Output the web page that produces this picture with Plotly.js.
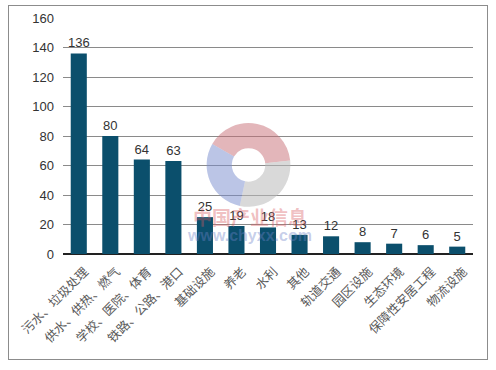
<!DOCTYPE html>
<html><head><meta charset="utf-8">
<script src="https://cdn.plot.ly/plotly-3.0.1.min.js"></script>
<style>
html,body{margin:0;padding:0;background:#fff;}
#frame{position:absolute;left:8px;top:5px;width:480px;height:355px;border:1px solid #8c8c8c;box-sizing:border-box;}
#chart{width:478px;height:353px;}
</style></head>
<body><div id="frame"><div id="chart"></div></div>
<script>
const categories = ["污水、垃圾处理","供水、供热、燃气","学校、医院、体育","铁路、公路、港口","基础设施","养老","水利","其他","轨道交通","园区设施","生态环境","保障性安居工程","物流设施"];
const values = [136,80,64,63,25,19,18,13,12,8,7,6,5];
const yTicks = [0,20,40,60,80,100,120,140,160];
const logoParts = [40,30,30];
const logoColors = ["rgba(200,110,118,0.5)","rgba(185,185,185,0.55)","rgba(120,140,205,0.5)"];

const bars = {
  type:'bar', x:categories, y:values,
  marker:{color:'#0b4f6c'},
  text:values.map(String), textposition:'outside', cliponaxis:false, constraintext:'none',
  textfont:{family:'Liberation Sans, Arial, sans-serif', size:13, color:'#333'},
  hoverinfo:'none', showlegend:false
};
const logo = {
  type:'pie', values:logoParts, marker:{colors:logoColors},
  hole:0.4, sort:false, direction:'clockwise', rotation:-60,
  textinfo:'none', hoverinfo:'none', showlegend:false,
  domain:{x:[0.35,0.555], y:[0.2,0.555]}
};
const layout = {
  width:478, height:353,
  margin:{l:54, r:14, t:12, b:105},
  paper_bgcolor:'#fff', plot_bgcolor:'#fff',
  bargap:0.49,
  font:{family:'Liberation Sans, Arial, "Noto Sans CJK SC", sans-serif', color:'#333'},
  xaxis:{
    tickangle:-45, showgrid:false, zeroline:false, showline:false, ticks:'',
    ticklabelstandoff:7, ticklabelshift:6,
    tickfont:{family:'"Noto Sans CJK SC", sans-serif', size:12.5, color:'#595959'},
    fixedrange:true
  },
  yaxis:{
    range:[0,160], tickvals:yTicks, ticktext:yTicks.map(String),
    showgrid:true, gridcolor:'#8a8a8a', gridwidth:1,
    zeroline:true, zerolinecolor:'#222', zerolinewidth:1.3,
    showline:false, ticks:'', ticklabelstandoff:8,
    tickfont:{family:'Liberation Sans, Arial, sans-serif', size:13, color:'#333'},
    fixedrange:true
  },
  annotations:[
    {text:'<b>中国产业信息</b>', xref:'paper', yref:'paper', x:0.455, y:0.157, yanchor:'middle', showarrow:false,
     font:{family:'"Noto Sans CJK SC", sans-serif', size:19, color:'rgba(215,90,95,0.4)'}},
    {text:'<b>www.chyxx.com</b>', xref:'paper', yref:'paper', x:0.455, y:0.08, yanchor:'middle', showarrow:false,
     font:{family:'Liberation Sans, Arial, sans-serif', size:16, color:'rgba(110,130,200,0.4)'}}
  ]
};
Plotly.newPlot('chart',[bars,logo],layout,{displayModeBar:false,staticPlot:true});
</script></body></html>
